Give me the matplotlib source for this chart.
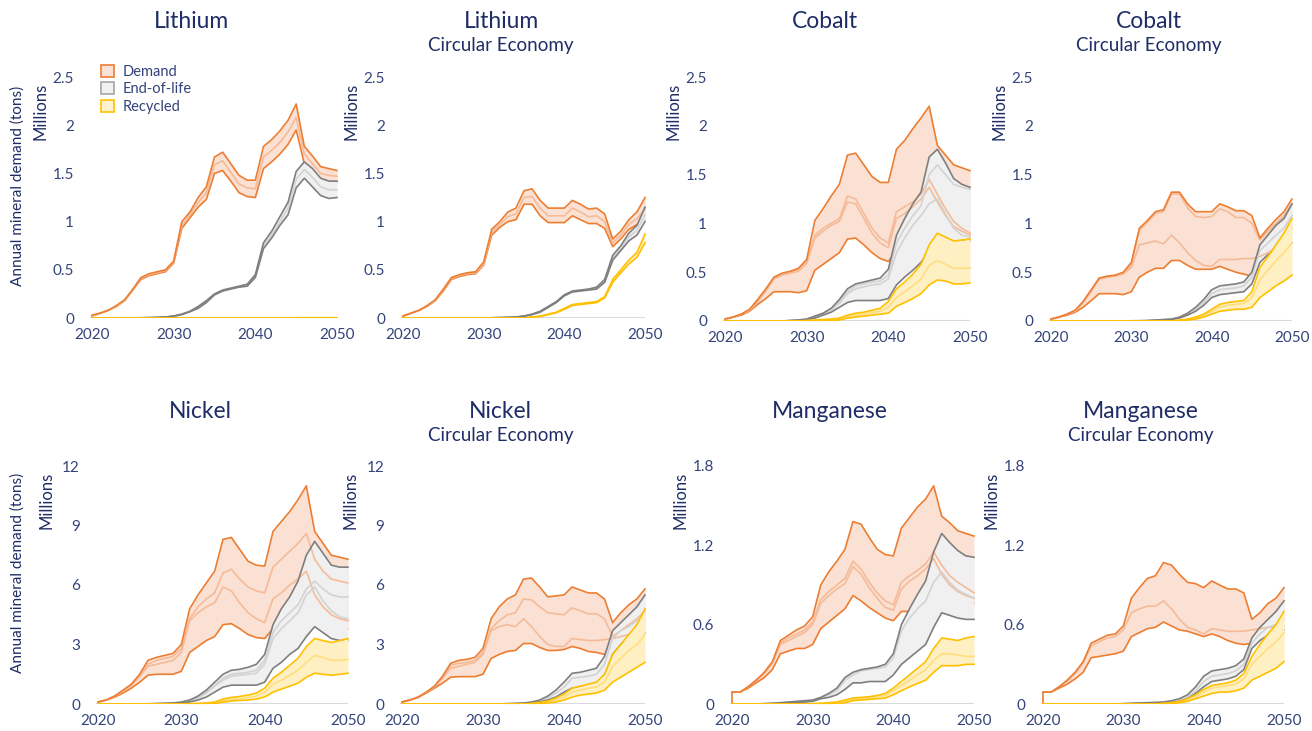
import matplotlib
matplotlib.use('Agg')
import matplotlib.pyplot as plt
from matplotlib.patches import Patch

plt.rcParams['font.family'] = ['Lato', 'DejaVu Sans']

years = list(range(2020, 2051))

# ---------------- Lithium ----------------
li_dem_hi = [0.03, 0.05, 0.08, 0.13, 0.19, 0.30, 0.42, 0.46, 0.48, 0.50,
             0.59, 1.00, 1.10, 1.25, 1.36, 1.67, 1.72, 1.60, 1.48, 1.43,
             1.43, 1.78, 1.85, 1.94, 2.05, 2.22, 1.78, 1.68, 1.57, 1.55, 1.53]
li_dem_mid = [0.02, 0.05, 0.08, 0.12, 0.18, 0.29, 0.41, 0.45, 0.47, 0.49,
              0.58, 0.96, 1.07, 1.20, 1.30, 1.59, 1.63, 1.51, 1.39, 1.35,
              1.34, 1.67, 1.74, 1.82, 1.93, 2.08, 1.70, 1.60, 1.50, 1.48, 1.47]
li_dem_lo = [0.02, 0.05, 0.08, 0.12, 0.18, 0.29, 0.40, 0.44, 0.46, 0.48,
             0.57, 0.93, 1.04, 1.15, 1.23, 1.50, 1.53, 1.42, 1.30, 1.26,
             1.25, 1.55, 1.62, 1.70, 1.80, 1.95, 1.60, 1.52, 1.43, 1.41, 1.41]
li_eol_hi = [0, 0, 0, 0, 0, 0, 0.002, 0.004, 0.006, 0.01,
             0.02, 0.04, 0.07, 0.12, 0.18, 0.25, 0.29, 0.31, 0.33, 0.35,
             0.45, 0.78, 0.90, 1.05, 1.20, 1.52, 1.62, 1.55, 1.45, 1.42, 1.42]
li_eol_mid = [0, 0, 0, 0, 0, 0, 0.002, 0.004, 0.006, 0.01,
              0.02, 0.04, 0.07, 0.11, 0.17, 0.245, 0.285, 0.305, 0.325, 0.34,
              0.435, 0.75, 0.86, 1.00, 1.14, 1.44, 1.54, 1.46, 1.36, 1.33, 1.33]
li_eol_lo = [0, 0, 0, 0, 0, 0, 0.002, 0.003, 0.005, 0.009,
             0.018, 0.035, 0.065, 0.10, 0.16, 0.24, 0.28, 0.30, 0.32, 0.33,
             0.42, 0.72, 0.83, 0.96, 1.07, 1.35, 1.45, 1.36, 1.27, 1.24, 1.25]
li_rec_hi = [0, 0, 0, 0, 0, 0, 0, 0, 0, 0,
             0, 0, 0, 0, 0, 0, 0, 0, 0, 0,
             0, 0, 0, 0, 0, 0.003, 0.003, 0.003, 0.003, 0.003, 0.003]
li_rec_lo = [0, 0, 0, 0, 0, 0, 0, 0, 0, 0,
             0, 0, 0, 0, 0, 0, 0, 0, 0, 0,
             0, 0, 0, 0, 0, 0, 0, 0, 0, 0, 0]

# ---------------- Lithium, Circular Economy ----------------
lc_dem_hi = [0.02, 0.05, 0.08, 0.13, 0.19, 0.30, 0.42, 0.45, 0.47, 0.48,
             0.58, 0.92, 1.00, 1.10, 1.14, 1.32, 1.34, 1.22, 1.14, 1.14,
             1.14, 1.22, 1.18, 1.13, 1.14, 1.08, 0.82, 0.90, 1.02, 1.10, 1.25]
lc_dem_mid = [0.02, 0.05, 0.08, 0.12, 0.18, 0.29, 0.41, 0.44, 0.46, 0.47,
              0.56, 0.89, 0.97, 1.05, 1.08, 1.25, 1.26, 1.14, 1.06, 1.06,
              1.06, 1.14, 1.10, 1.05, 1.06, 1.00, 0.78, 0.86, 0.97, 1.03, 1.13]
lc_dem_lo = [0.02, 0.05, 0.08, 0.12, 0.18, 0.28, 0.40, 0.43, 0.45, 0.46,
             0.55, 0.86, 0.94, 1.00, 1.02, 1.18, 1.18, 1.06, 0.99, 0.99,
             0.99, 1.06, 1.02, 0.98, 0.98, 0.93, 0.74, 0.82, 0.92, 0.97, 1.02]
lc_eol_hi = [0, 0, 0, 0, 0, 0, 0, 0, 0, 0,
             0, 0.002, 0.004, 0.006, 0.01, 0.02, 0.04, 0.07, 0.12, 0.17,
             0.24, 0.28, 0.29, 0.30, 0.32, 0.40, 0.65, 0.75, 0.88, 0.96, 1.15]
lc_eol_mid = [0, 0, 0, 0, 0, 0, 0, 0, 0, 0,
              0, 0.002, 0.004, 0.006, 0.01, 0.019, 0.038, 0.065, 0.115, 0.165,
              0.235, 0.275, 0.285, 0.295, 0.315, 0.38, 0.62, 0.72, 0.84, 0.91, 1.07]
lc_eol_lo = [0, 0, 0, 0, 0, 0, 0, 0, 0, 0,
             0, 0.002, 0.004, 0.006, 0.01, 0.018, 0.035, 0.06, 0.11, 0.16,
             0.23, 0.27, 0.28, 0.29, 0.30, 0.37, 0.60, 0.70, 0.80, 0.86, 1.00]
lc_rec_hi = [0, 0, 0, 0, 0, 0, 0, 0, 0, 0,
             0, 0, 0, 0, 0, 0, 0.01, 0.02, 0.04, 0.06,
             0.10, 0.14, 0.15, 0.16, 0.17, 0.22, 0.40, 0.50, 0.60, 0.68, 0.87]
lc_rec_lo = [0, 0, 0, 0, 0, 0, 0, 0, 0, 0,
             0, 0, 0, 0, 0, 0, 0.008, 0.015, 0.035, 0.055,
             0.09, 0.13, 0.14, 0.15, 0.16, 0.21, 0.37, 0.47, 0.56, 0.63, 0.78]

# ---------------- Cobalt ----------------
co_dem_hi = [0.02, 0.04, 0.07, 0.12, 0.22, 0.33, 0.45, 0.49, 0.51, 0.54,
             0.63, 1.03, 1.15, 1.28, 1.40, 1.70, 1.72, 1.60, 1.48, 1.42,
             1.42, 1.76, 1.85, 1.97, 2.08, 2.20, 1.80, 1.70, 1.60, 1.57, 1.54]
co_dem_mid1 = [0.02, 0.04, 0.07, 0.11, 0.20, 0.31, 0.44, 0.48, 0.50, 0.52,
               0.60, 0.88, 0.95, 1.00, 1.05, 1.28, 1.25, 1.10, 0.95, 0.85,
               0.80, 1.12, 1.17, 1.22, 1.30, 1.45, 1.30, 1.15, 1.02, 0.95, 0.90]
co_dem_mid2 = [0.02, 0.04, 0.07, 0.11, 0.20, 0.31, 0.43, 0.47, 0.49, 0.51,
               0.59, 0.85, 0.92, 0.98, 1.02, 1.22, 1.20, 1.05, 0.90, 0.80,
               0.75, 1.05, 1.10, 1.17, 1.25, 1.37, 1.22, 1.08, 0.97, 0.92, 0.88]
co_dem_lo = [0.02, 0.04, 0.06, 0.10, 0.17, 0.23, 0.30, 0.30, 0.30, 0.29,
             0.31, 0.52, 0.58, 0.64, 0.70, 0.84, 0.85, 0.78, 0.70, 0.64,
             0.61, 0.72, 0.80, 0.85, 0.90, 1.00, 1.00, 0.95, 0.90, 0.88, 0.86]
co_eol_hi = [0, 0, 0, 0, 0, 0, 0, 0, 0.005, 0.01,
             0.02, 0.05, 0.08, 0.13, 0.22, 0.33, 0.38, 0.40, 0.42, 0.44,
             0.53, 0.88, 1.05, 1.20, 1.32, 1.68, 1.76, 1.62, 1.46, 1.40, 1.37]
co_eol_mid1 = [0, 0, 0, 0, 0, 0, 0, 0, 0.004, 0.008,
               0.02, 0.045, 0.075, 0.12, 0.20, 0.30, 0.36, 0.38, 0.40, 0.41,
               0.47, 0.80, 0.95, 1.08, 1.18, 1.50, 1.60, 1.50, 1.40, 1.37, 1.35]
co_eol_mid2 = [0, 0, 0, 0, 0, 0, 0, 0, 0.004, 0.007,
               0.015, 0.04, 0.07, 0.11, 0.18, 0.28, 0.33, 0.35, 0.37, 0.38,
               0.43, 0.70, 0.85, 0.98, 1.08, 1.20, 1.25, 1.10, 0.95, 0.88, 0.86]
co_eol_lo = [0, 0, 0, 0, 0, 0, 0, 0, 0.003, 0.006,
             0.01, 0.03, 0.06, 0.09, 0.14, 0.19, 0.21, 0.21, 0.21, 0.21,
             0.23, 0.37, 0.45, 0.52, 0.60, 0.72, 0.85, 0.85, 0.80, 0.82, 0.82]
co_rec_hi = [0, 0, 0, 0, 0, 0, 0, 0, 0, 0,
             0.005, 0.01, 0.015, 0.02, 0.03, 0.06, 0.08, 0.09, 0.11, 0.13,
             0.20, 0.33, 0.40, 0.48, 0.58, 0.78, 0.90, 0.86, 0.82, 0.83, 0.84]
co_rec_mid = [0, 0, 0, 0, 0, 0, 0, 0, 0, 0,
              0.003, 0.006, 0.01, 0.013, 0.02, 0.045, 0.06, 0.07, 0.085, 0.10,
              0.14, 0.24, 0.30, 0.36, 0.43, 0.57, 0.62, 0.58, 0.54, 0.54, 0.54]
co_rec_lo = [0, 0, 0, 0, 0, 0, 0, 0, 0, 0,
             0, 0, 0, 0.005, 0.01, 0.03, 0.04, 0.05, 0.06, 0.07,
             0.08, 0.15, 0.19, 0.23, 0.28, 0.37, 0.42, 0.41, 0.38, 0.38, 0.39]

# ---------------- Cobalt, Circular Economy ----------------
cc_dem_hi = [0.02, 0.04, 0.07, 0.11, 0.20, 0.32, 0.44, 0.46, 0.47, 0.50,
             0.60, 0.95, 1.03, 1.12, 1.14, 1.32, 1.32, 1.20, 1.12, 1.12,
             1.12, 1.20, 1.17, 1.13, 1.13, 1.08, 0.85, 0.95, 1.04, 1.12, 1.25]
cc_dem_mid1 = [0.02, 0.04, 0.07, 0.11, 0.19, 0.31, 0.43, 0.45, 0.46, 0.49,
               0.58, 0.93, 1.01, 1.10, 1.12, 1.30, 1.30, 1.16, 1.07, 1.06,
               1.07, 1.15, 1.12, 1.06, 1.06, 1.00, 0.83, 0.92, 1.00, 1.08, 1.20]
cc_dem_mid2 = [0.02, 0.04, 0.07, 0.10, 0.19, 0.30, 0.43, 0.45, 0.46, 0.48,
               0.55, 0.78, 0.80, 0.82, 0.79, 0.88, 0.80, 0.70, 0.62, 0.57,
               0.56, 0.63, 0.63, 0.63, 0.64, 0.64, 0.66, 0.70, 0.75, 0.78, 0.80]
cc_dem_lo = [0.02, 0.04, 0.06, 0.09, 0.14, 0.21, 0.28, 0.28, 0.28, 0.27,
             0.30, 0.45, 0.50, 0.54, 0.54, 0.62, 0.62, 0.57, 0.53, 0.53,
             0.53, 0.56, 0.53, 0.50, 0.48, 0.46, 0.65, 0.75, 0.82, 0.88, 0.95]
cc_eol_hi = [0, 0, 0, 0, 0, 0, 0, 0, 0, 0,
             0.002, 0.003, 0.005, 0.01, 0.015, 0.02, 0.04, 0.08, 0.14, 0.22,
             0.32, 0.36, 0.37, 0.38, 0.40, 0.50, 0.78, 0.88, 0.98, 1.05, 1.20]
cc_eol_mid = [0, 0, 0, 0, 0, 0, 0, 0, 0, 0,
              0.001, 0.002, 0.004, 0.008, 0.012, 0.018, 0.035, 0.07, 0.12, 0.19,
              0.28, 0.32, 0.33, 0.34, 0.36, 0.45, 0.72, 0.80, 0.88, 0.95, 1.08]
cc_eol_lo = [0, 0, 0, 0, 0, 0, 0, 0, 0, 0,
             0, 0, 0.002, 0.005, 0.01, 0.015, 0.03, 0.06, 0.10, 0.16,
             0.24, 0.27, 0.28, 0.29, 0.30, 0.38, 0.60, 0.68, 0.72, 0.76, 0.80]
cc_rec_hi = [0, 0, 0, 0, 0, 0, 0, 0, 0, 0,
             0, 0, 0, 0, 0, 0, 0.01, 0.02, 0.04, 0.07,
             0.12, 0.17, 0.19, 0.20, 0.21, 0.30, 0.55, 0.66, 0.78, 0.90, 1.05]
cc_rec_mid = [0, 0, 0, 0, 0, 0, 0, 0, 0, 0,
              0, 0, 0, 0, 0, 0, 0.005, 0.015, 0.03, 0.05,
              0.10, 0.14, 0.16, 0.17, 0.18, 0.24, 0.42, 0.52, 0.62, 0.70, 0.80]
cc_rec_lo = [0, 0, 0, 0, 0, 0, 0, 0, 0, 0,
             0, 0, 0, 0, 0, 0, 0, 0.01, 0.02, 0.04,
             0.07, 0.10, 0.11, 0.12, 0.12, 0.14, 0.24, 0.30, 0.36, 0.41, 0.47]

# ---------------- Nickel ----------------
ni_dem_hi = [0.1, 0.2, 0.4, 0.7, 1.0, 1.5, 2.2, 2.35, 2.45, 2.55,
             3.0, 4.8, 5.5, 6.1, 6.7, 8.3, 8.4, 7.8, 7.2, 7.0,
             6.95, 8.7, 9.2, 9.7, 10.3, 11.0, 8.7, 8.1, 7.5, 7.4, 7.3]
ni_dem_mid1 = [0.1, 0.2, 0.4, 0.65, 0.95, 1.4, 2.0, 2.2, 2.3, 2.4,
               2.8, 4.3, 4.9, 5.3, 5.6, 6.6, 6.8, 6.3, 5.9, 5.7,
               5.6, 6.9, 7.3, 7.7, 8.1, 8.6, 7.3, 6.7, 6.3, 6.2, 6.1]
ni_dem_mid2 = [0.1, 0.2, 0.4, 0.65, 0.95, 1.4, 1.9, 2.0, 2.1, 2.2,
               2.6, 4.2, 4.6, 4.9, 5.1, 5.9, 5.7, 5.1, 4.6, 4.3,
               4.1, 5.3, 5.6, 6.0, 6.3, 6.7, 5.5, 4.9, 4.5, 4.3, 4.2]
ni_dem_lo = [0.1, 0.2, 0.35, 0.55, 0.8, 1.1, 1.45, 1.5, 1.5, 1.5,
             1.65, 2.6, 2.9, 3.2, 3.4, 4.0, 4.05, 3.8, 3.5, 3.35,
             3.3, 3.8, 4.0, 4.3, 4.6, 5.0, 4.6, 4.3, 4.0, 3.9, 3.8]
ni_eol_hi = [0, 0, 0, 0, 0, 0, 0.01, 0.02, 0.03, 0.05,
             0.1, 0.2, 0.4, 0.7, 1.1, 1.5, 1.7, 1.75, 1.85, 2.0,
             2.5, 4.0, 4.8, 5.4, 6.2, 7.5, 8.2, 7.6, 7.0, 6.9, 6.9]
ni_eol_mid1 = [0, 0, 0, 0, 0, 0, 0.01, 0.02, 0.03, 0.04,
               0.08, 0.16, 0.33, 0.6, 0.95, 1.3, 1.5, 1.55, 1.6, 1.7,
               2.2, 3.6, 4.2, 4.6, 5.0, 5.8, 6.2, 5.8, 5.5, 5.4, 5.4]
ni_eol_mid2 = [0, 0, 0, 0, 0, 0, 0.01, 0.015, 0.025, 0.035,
               0.07, 0.14, 0.3, 0.55, 0.9, 1.2, 1.4, 1.45, 1.5, 1.55,
               2.0, 3.3, 3.8, 4.2, 4.6, 5.5, 5.9, 5.2, 4.7, 4.4, 4.3]
ni_eol_lo = [0, 0, 0, 0, 0, 0, 0.005, 0.01, 0.02, 0.03,
             0.05, 0.1, 0.2, 0.35, 0.6, 0.85, 0.95, 0.95, 0.95, 0.95,
             1.1, 1.8, 2.1, 2.5, 2.8, 3.4, 3.9, 3.6, 3.3, 3.2, 3.2]
ni_rec_hi = [0, 0, 0, 0, 0, 0, 0, 0, 0, 0,
             0.01, 0.02, 0.03, 0.05, 0.1, 0.25, 0.33, 0.38, 0.45, 0.55,
             0.8, 1.3, 1.6, 1.95, 2.3, 2.9, 3.3, 3.2, 3.1, 3.2, 3.3]
ni_rec_mid = [0, 0, 0, 0, 0, 0, 0, 0, 0, 0,
              0.005, 0.01, 0.02, 0.03, 0.06, 0.17, 0.23, 0.27, 0.32, 0.4,
              0.6, 1.0, 1.2, 1.45, 1.7, 2.1, 2.45, 2.35, 2.2, 2.2, 2.25]
ni_rec_lo = [0, 0, 0, 0, 0, 0, 0, 0, 0, 0,
             0, 0, 0, 0.01, 0.02, 0.1, 0.15, 0.18, 0.2, 0.25,
             0.35, 0.6, 0.75, 0.9, 1.05, 1.35, 1.55, 1.5, 1.45, 1.5, 1.55]

# ---------------- Nickel, Circular Economy ----------------
nc_dem_hi = [0.1, 0.2, 0.35, 0.6, 0.9, 1.4, 2.05, 2.2, 2.25, 2.35,
             2.8, 4.3, 4.9, 5.3, 5.5, 6.3, 6.35, 5.9, 5.4, 5.45,
             5.5, 5.9, 5.75, 5.6, 5.6, 5.3, 4.1, 4.6, 5.0, 5.3, 5.8]
nc_dem_mid1 = [0.1, 0.2, 0.35, 0.58, 0.88, 1.3, 1.95, 2.05, 2.1, 2.2,
               2.6, 3.8, 4.2, 4.5, 4.6, 5.3, 5.25, 4.9, 4.6, 4.55,
               4.5, 4.85, 4.7, 4.55, 4.55, 4.3, 3.4, 3.7, 4.0, 4.3, 4.7]
nc_dem_mid2 = [0.1, 0.2, 0.35, 0.58, 0.88, 1.3, 1.8, 1.9, 2.0, 2.1,
               2.5, 3.7, 3.9, 4.0, 3.9, 4.3, 3.9, 3.4, 3.0, 2.9,
               2.9, 3.3, 3.25, 3.2, 3.2, 3.25, 3.3, 3.4, 3.5, 3.5, 3.6]
nc_dem_lo = [0.1, 0.2, 0.33, 0.55, 0.8, 1.05, 1.35, 1.38, 1.38, 1.38,
             1.5, 2.3, 2.5, 2.65, 2.7, 3.05, 3.05, 2.85, 2.7, 2.7,
             2.75, 2.9, 2.8, 2.65, 2.6, 2.5, 3.0, 3.3, 3.6, 3.9, 4.2]
nc_eol_hi = [0, 0, 0, 0, 0, 0, 0, 0, 0, 0,
             0, 0, 0, 0.02, 0.03, 0.05, 0.1, 0.2, 0.4, 0.7,
             1.1, 1.55, 1.6, 1.7, 1.8, 2.4, 3.7, 4.1, 4.5, 4.9, 5.5]
nc_eol_mid = [0, 0, 0, 0, 0, 0, 0, 0, 0, 0,
              0, 0, 0, 0.01, 0.02, 0.04, 0.07, 0.15, 0.3, 0.55,
              0.85, 1.3, 1.35, 1.4, 1.5, 2.0, 3.3, 3.7, 3.9, 4.2, 4.6]
nc_eol_lo = [0, 0, 0, 0, 0, 0, 0, 0, 0, 0,
             0, 0, 0, 0, 0.01, 0.02, 0.05, 0.1, 0.2, 0.35,
             0.6, 0.8, 0.85, 0.9, 0.95, 1.3, 2.5, 3.0, 3.3, 3.5, 3.6]
nc_rec_hi = [0, 0, 0, 0, 0, 0, 0, 0, 0, 0,
             0, 0, 0, 0, 0, 0, 0.03, 0.08, 0.15, 0.3,
             0.5, 0.8, 0.9, 1.0, 1.1, 1.5, 2.5, 3.0, 3.5, 4.0, 4.8]
nc_rec_mid = [0, 0, 0, 0, 0, 0, 0, 0, 0, 0,
              0, 0, 0, 0, 0, 0, 0.015, 0.05, 0.1, 0.2,
              0.35, 0.6, 0.7, 0.8, 0.85, 1.1, 1.9, 2.3, 2.7, 3.0, 3.5]
nc_rec_lo = [0, 0, 0, 0, 0, 0, 0, 0, 0, 0,
             0, 0, 0, 0, 0, 0, 0, 0.02, 0.05, 0.1,
             0.2, 0.35, 0.45, 0.5, 0.55, 0.7, 1.1, 1.35, 1.6, 1.85, 2.1]

# ---------------- Manganese ----------------
mn_dem_hi = [0.09, 0.09, 0.13, 0.18, 0.24, 0.32, 0.48, 0.52, 0.56, 0.59,
             0.66, 0.90, 1.00, 1.08, 1.17, 1.38, 1.36, 1.26, 1.17, 1.13,
             1.12, 1.33, 1.41, 1.49, 1.55, 1.65, 1.42, 1.37, 1.31, 1.29, 1.27]
mn_dem_mid1 = [0.09, 0.09, 0.13, 0.18, 0.23, 0.31, 0.46, 0.50, 0.53, 0.56,
               0.62, 0.79, 0.85, 0.90, 0.95, 1.08, 1.02, 0.92, 0.84, 0.78,
               0.75, 0.92, 0.97, 1.01, 1.06, 1.15, 1.05, 0.97, 0.92, 0.88, 0.84]
mn_dem_mid2 = [0.09, 0.09, 0.13, 0.18, 0.23, 0.31, 0.45, 0.48, 0.51, 0.54,
               0.60, 0.76, 0.82, 0.87, 0.91, 1.04, 0.98, 0.88, 0.80, 0.73,
               0.71, 0.87, 0.93, 0.97, 1.02, 1.10, 0.98, 0.90, 0.85, 0.82, 0.80]
mn_dem_lo = [0.09, 0.09, 0.12, 0.16, 0.20, 0.26, 0.38, 0.40, 0.42, 0.42,
             0.45, 0.57, 0.62, 0.67, 0.72, 0.82, 0.78, 0.73, 0.69, 0.65,
             0.63, 0.70, 0.70, 0.72, 0.75, 0.82, 0.85, 0.82, 0.80, 0.78, 0.76]
mn_eol_hi = [0, 0, 0, 0, 0.003, 0.005, 0.01, 0.015, 0.02, 0.025,
             0.03, 0.05, 0.08, 0.12, 0.20, 0.24, 0.26, 0.27, 0.28, 0.30,
             0.38, 0.60, 0.72, 0.83, 0.93, 1.15, 1.29, 1.22, 1.16, 1.12, 1.11]
mn_eol_mid = [0, 0, 0, 0, 0.002, 0.004, 0.008, 0.012, 0.016, 0.02,
              0.025, 0.045, 0.07, 0.10, 0.18, 0.22, 0.25, 0.26, 0.27, 0.28,
              0.35, 0.55, 0.65, 0.72, 0.78, 0.92, 1.00, 0.92, 0.86, 0.83, 0.80]
mn_eol_lo = [0, 0, 0, 0, 0.001, 0.003, 0.005, 0.008, 0.012, 0.015,
             0.02, 0.04, 0.05, 0.07, 0.11, 0.16, 0.16, 0.17, 0.17, 0.17,
             0.22, 0.30, 0.35, 0.40, 0.45, 0.58, 0.69, 0.67, 0.65, 0.64, 0.64]
mn_rec_hi = [0, 0, 0, 0, 0, 0, 0, 0, 0, 0,
             0.003, 0.005, 0.01, 0.015, 0.03, 0.045, 0.05, 0.055, 0.065, 0.08,
             0.12, 0.17, 0.22, 0.27, 0.32, 0.42, 0.50, 0.49, 0.48, 0.50, 0.51]
mn_rec_mid = [0, 0, 0, 0, 0, 0, 0, 0, 0, 0,
              0.002, 0.003, 0.006, 0.01, 0.02, 0.035, 0.04, 0.045, 0.055, 0.065,
              0.10, 0.14, 0.18, 0.22, 0.26, 0.33, 0.38, 0.38, 0.37, 0.36, 0.36]
mn_rec_lo = [0, 0, 0, 0, 0, 0, 0, 0, 0, 0,
             0, 0, 0, 0.003, 0.01, 0.025, 0.03, 0.035, 0.04, 0.045,
             0.07, 0.10, 0.13, 0.155, 0.18, 0.24, 0.29, 0.29, 0.29, 0.30, 0.30]

# ---------------- Manganese, Circular Economy ----------------
mc_dem_hi = [0.09, 0.09, 0.13, 0.18, 0.24, 0.32, 0.46, 0.49, 0.52, 0.53,
             0.59, 0.80, 0.88, 0.95, 0.97, 1.07, 1.05, 0.98, 0.92, 0.91,
             0.88, 0.93, 0.90, 0.87, 0.87, 0.84, 0.64, 0.69, 0.76, 0.80, 0.88]
mc_dem_mid = [0.09, 0.09, 0.13, 0.17, 0.23, 0.31, 0.44, 0.47, 0.50, 0.51,
              0.56, 0.69, 0.72, 0.74, 0.74, 0.78, 0.72, 0.64, 0.58, 0.56,
              0.53, 0.57, 0.56, 0.55, 0.55, 0.55, 0.56, 0.57, 0.58, 0.58, 0.59]
mc_dem_lo = [0.09, 0.09, 0.12, 0.15, 0.19, 0.24, 0.35, 0.36, 0.37, 0.38,
             0.40, 0.51, 0.54, 0.57, 0.58, 0.62, 0.59, 0.56, 0.55, 0.53,
             0.51, 0.53, 0.51, 0.48, 0.46, 0.45, 0.46, 0.52, 0.57, 0.60, 0.64]
mc_eol_hi = [0, 0, 0, 0, 0, 0, 0, 0, 0, 0,
             0.003, 0.005, 0.008, 0.01, 0.012, 0.015, 0.025, 0.04, 0.07, 0.13,
             0.21, 0.25, 0.26, 0.27, 0.29, 0.34, 0.50, 0.58, 0.64, 0.70, 0.78]
mc_eol_mid = [0, 0, 0, 0, 0, 0, 0, 0, 0, 0,
              0.002, 0.004, 0.006, 0.008, 0.01, 0.012, 0.02, 0.03, 0.055, 0.10,
              0.17, 0.21, 0.22, 0.23, 0.25, 0.30, 0.46, 0.53, 0.58, 0.60, 0.64]
mc_eol_lo = [0, 0, 0, 0, 0, 0, 0, 0, 0, 0,
             0.001, 0.002, 0.003, 0.004, 0.005, 0.007, 0.01, 0.02, 0.04, 0.08,
             0.13, 0.17, 0.18, 0.19, 0.21, 0.26, 0.42, 0.48, 0.52, 0.54, 0.56]
mc_rec_hi = [0, 0, 0, 0, 0, 0, 0, 0, 0, 0,
             0, 0, 0, 0, 0, 0.005, 0.01, 0.02, 0.04, 0.07,
             0.11, 0.14, 0.15, 0.16, 0.18, 0.23, 0.36, 0.45, 0.53, 0.60, 0.70]
mc_rec_mid = [0, 0, 0, 0, 0, 0, 0, 0, 0, 0,
              0, 0, 0, 0, 0, 0.003, 0.006, 0.012, 0.025, 0.05,
              0.09, 0.12, 0.13, 0.14, 0.15, 0.19, 0.30, 0.36, 0.42, 0.47, 0.54]
mc_rec_lo = [0, 0, 0, 0, 0, 0, 0, 0, 0, 0,
             0, 0, 0, 0, 0, 0, 0.003, 0.01, 0.02, 0.04,
             0.06, 0.08, 0.09, 0.09, 0.10, 0.12, 0.18, 0.21, 0.24, 0.27, 0.32]

top_ticks = [0, 0.5, 1, 1.5, 2, 2.5]
top_labels = ['0', '0.5', '1', '1.5', '2', '2.5']
ni_ticks = [0, 3, 6, 9, 12]
ni_labels = ['0', '3', '6', '9', '12']
mn_ticks = [0, 0.6, 1.2, 1.8]
mn_labels = ['0', '0.6', '1.2', '1.8']
x_ticks = [2020, 2030, 2040, 2050]

# colours
DEM_LINE, DEM_FILL, DEM_MID = '#ED7D31', '#FAE1D4', '#F5BB98'
EOL_LINE, EOL_FILL, EOL_MID = '#7F7F7F', '#F0F0F0', '#D3D3D3'
REC_LINE, REC_FILL, REC_MID = '#FFC000', '#FFF0C4', '#FFDE80'
NAVY = '#1F2D66'
TICK = '#34437A'

W, H = 1312, 731
fig = plt.figure(figsize=(W / 100, H / 100), dpi=100)

# pixel boxes: x of 2020, x of 2050, y of zero, y of top tick
panels = [
    dict(title='Lithium', sub=None, box=(92, 337, 318, 77), ymax=2.5,
         ticks=(top_ticks, top_labels), first=True,
         dem=(li_dem_hi, li_dem_lo, [li_dem_mid]),
         eol=(li_eol_hi, li_eol_lo, [li_eol_mid]),
         rec=(li_rec_hi, li_rec_lo, [])),
    dict(title='Lithium', sub='Circular Economy', box=(403, 645, 318, 77), ymax=2.5,
         ticks=(top_ticks, top_labels), first=False,
         dem=(lc_dem_hi, lc_dem_lo, [lc_dem_mid]),
         eol=(lc_eol_hi, lc_eol_lo, [lc_eol_mid]),
         rec=(lc_rec_hi, lc_rec_lo, [])),
    dict(title='Cobalt', sub=None, box=(725, 970, 321, 77), ymax=2.5,
         ticks=(top_ticks, top_labels), first=False,
         dem=(co_dem_hi, co_dem_lo, [co_dem_mid1, co_dem_mid2]),
         eol=(co_eol_hi, co_eol_lo, [co_eol_mid1, co_eol_mid2]),
         rec=(co_rec_hi, co_rec_lo, [co_rec_mid])),
    dict(title='Cobalt', sub='Circular Economy', box=(1051, 1292, 321, 77), ymax=2.5,
         ticks=(top_ticks, top_labels), first=False,
         dem=(cc_dem_hi, cc_dem_lo, [cc_dem_mid1, cc_dem_mid2]),
         eol=(cc_eol_hi, cc_eol_lo, [cc_eol_mid]),
         rec=(cc_rec_hi, cc_rec_lo, [cc_rec_mid])),
    dict(title='Nickel', sub=None, box=(98, 348, 704, 466), ymax=12,
         ticks=(ni_ticks, ni_labels), first=True,
         dem=(ni_dem_hi, ni_dem_lo, [ni_dem_mid1, ni_dem_mid2]),
         eol=(ni_eol_hi, ni_eol_lo, [ni_eol_mid1, ni_eol_mid2]),
         rec=(ni_rec_hi, ni_rec_lo, [ni_rec_mid])),
    dict(title='Nickel', sub='Circular Economy', box=(402, 645, 704, 466), ymax=12,
         ticks=(ni_ticks, ni_labels), first=False,
         dem=(nc_dem_hi, nc_dem_lo, [nc_dem_mid1, nc_dem_mid2]),
         eol=(nc_eol_hi, nc_eol_lo, [nc_eol_mid]),
         rec=(nc_rec_hi, nc_rec_lo, [nc_rec_mid])),
    dict(title='Manganese', sub=None, box=(732, 974, 704, 466), ymax=1.8,
         ticks=(mn_ticks, mn_labels), first=False,
         dem=(mn_dem_hi, mn_dem_lo, [mn_dem_mid1, mn_dem_mid2]),
         eol=(mn_eol_hi, mn_eol_lo, [mn_eol_mid]),
         rec=(mn_rec_hi, mn_rec_lo, [mn_rec_mid])),
    dict(title='Manganese', sub='Circular Economy', box=(1043, 1284, 704, 466), ymax=1.8,
         ticks=(mn_ticks, mn_labels), first=False,
         dem=(mc_dem_hi, mc_dem_lo, [mc_dem_mid]),
         eol=(mc_eol_hi, mc_eol_lo, [mc_eol_mid]),
         rec=(mc_rec_hi, mc_rec_lo, [mc_rec_mid])),
]

for p in panels:
    x20, x50, y0, ytop = p['box']
    ppy = (x50 - x20) / 30
    left, right = x20 - 0.5 * ppy, x50 + 0.5 * ppy
    ax = fig.add_axes([left / W, 1 - y0 / H, (right - left) / W, (y0 - ytop) / H])
    ax.set_xlim(2019.5, 2050.5)
    ax.set_ylim(0, p['ymax'])
    for s in ax.spines.values():
        s.set_visible(False)
    ax.hlines(0, years[0] - 0.3, years[-1], color='#D9D9D9', lw=1.5, zorder=0)

    ax.set_xticks(x_ticks)
    ax.set_xticklabels([str(t) for t in x_ticks])
    ax.set_yticks(p['ticks'][0])
    ax.set_yticklabels(p['ticks'][1])
    ax.tick_params(axis='x', length=0, pad=7, labelsize=11, labelcolor=TICK)
    ax.tick_params(axis='y', length=0, pad=10, labelsize=11, labelcolor=TICK)

    d_hi, d_lo, d_mid = p['dem']
    e_hi, e_lo, e_mid = p['eol']
    r_hi, r_lo, r_mid = p['rec']

    # demand band
    ax.fill_between(years, d_lo, d_hi, color=DEM_FILL, lw=0, zorder=1)
    ax.plot(years, d_lo, color=DEM_LINE, lw=1.2, zorder=2)
    ax.vlines(years[0], 0, d_hi[0], color=DEM_LINE, lw=1.2, zorder=2)
    # end-of-life band covers the hidden part of the demand band
    ax.fill_between(years, e_lo, e_hi, color=EOL_FILL, lw=0, zorder=3)
    for m in d_mid:
        ax.plot(years, m, color=DEM_MID, lw=1.2, zorder=4)
    ax.plot(years, d_hi, color=DEM_LINE, lw=1.2, zorder=5)
    for m in e_mid:
        ax.plot(years, m, color=EOL_MID, lw=1.2, zorder=6)
    ax.plot(years, e_hi, color=EOL_LINE, lw=1.2, zorder=7)
    ax.plot(years, e_lo, color=EOL_LINE, lw=1.2, zorder=7)
    # recycled band
    ax.fill_between(years, r_lo, r_hi, color=REC_FILL, lw=0, zorder=8)
    for m in r_mid:
        ax.plot(years, m, color=REC_MID, lw=1.2, zorder=9)
    ax.plot(years, r_hi, color=REC_LINE, lw=1.2, zorder=10)
    ax.plot(years, r_lo, color=REC_LINE, lw=1.2, zorder=10)

    # titles
    cx = (left + right) / 2 - 23
    fig.text(cx / W, 1 - (ytop - 55) / H, p['title'], ha='center', va='center',
             fontsize=16.5, color=NAVY)
    if p['sub']:
        fig.text(cx / W, 1 - (ytop - 31) / H, p['sub'], ha='center', va='center',
                 fontsize=13.5, color=NAVY)
    fig.text((left - 47) / W, 1 - (ytop + 6) / H, 'Millions', rotation=90,
             ha='center', va='top', fontsize=12, color=NAVY)
    if p['first']:
        fig.text(18 / W, 1 - ((y0 + ytop) / 2 - 12) / H, 'Annual mineral demand (tons)',
                 rotation=90, ha='center', va='center', fontsize=11, color=NAVY)

handles = [Patch(facecolor=DEM_FILL, edgecolor=DEM_LINE, lw=1.2),
           Patch(facecolor=EOL_FILL, edgecolor='#A6A6A6', lw=1.2),
           Patch(facecolor='#FFF2CC', edgecolor=REC_LINE, lw=1.2)]
fig.legend(handles, ['Demand', 'End-of-life', 'Recycled'], loc='upper left',
           bbox_to_anchor=(101 / W, 1 - 65 / H), frameon=False, fontsize=10.5,
           handlelength=0.9, handleheight=0.9, handletextpad=0.55,
           labelspacing=0.22, borderpad=0, borderaxespad=0, labelcolor=TICK)

fig.savefig('out.png', dpi=100, facecolor='white')
